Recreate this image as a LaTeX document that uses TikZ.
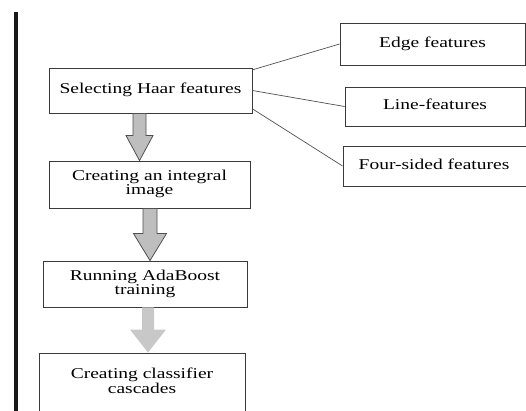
\documentclass[tikz,border=0pt]{standalone}
\usepackage{fontspec}
\usepackage{graphicx}
\setmainfont{Liberation Serif}
\usetikzlibrary{calc}

% wide serif label, one or more centred lines
\newcommand\boxlabel[1]{\fontsize{15}{14}\selectfont\scalebox{1.3}[1]{\begin{tabular}{@{}c@{}}#1\end{tabular}}}

% hollow block arrow between two anchors:
% #1 style, #2 from, #3 to, #4 x centre, #5 shaft half width, #6 head half width, #7 head length
\newcommand\flowarrow[7]{%
  \path[#1] let \p1=(#2), \p2=(#3) in
    ({#4pt-#5pt},\y1) -- ({#4pt+#5pt},\y1) -- ({#4pt+#5pt},{\y2+#7pt})
    -- ({#4pt+#6pt},{\y2+#7pt}) -- (#4pt,\y2) -- ({#4pt-#6pt},{\y2+#7pt})
    -- ({#4pt-#5pt},{\y2+#7pt}) -- cycle;}

\definecolor{edgegray}{HTML}{3A3A3A}
\definecolor{linkgray}{HTML}{505050}
\definecolor{arrowfill}{HTML}{BEBEBE}
\definecolor{arrowlight}{HTML}{C8C8C8}

\tikzset{
  stepbox/.style={draw=edgegray, line width=0.9pt, fill=white, inner sep=0pt, minimum width=#1},
  link/.style={draw=linkgray, line width=0.7pt},
  darrow/.style={fill=arrowfill, draw=linkgray, line width=0.8pt, line join=miter},
  larrow/.style={fill=arrowlight},
}

\begin{document}
\begin{tikzpicture}[x=1pt, y=-1pt]
  \useasboundingbox (0,0) rectangle (526,410);

  % margin rule on the left
  \fill[black!90] (14,12) rectangle (18,415);

  % main flow
  \node[stepbox=203pt, minimum height=45pt] (haar) at (150.5,90.5) {\boxlabel{Selecting Haar features}};
  \node[stepbox=201pt, minimum height=47pt] (integral) at (149.5,184.5) {\boxlabel{Creating an integral\\image}};
  \node[stepbox=204pt, minimum height=46pt] (ada) at (145,284) {\raisebox{4pt}{\boxlabel{Running AdaBoost\\training}}};
  \node[stepbox=206pt, minimum height=60pt] (cascade) at (142,383) {\boxlabel{Creating classifier\\cascades}};

  % feature types
  \node[stepbox=185pt, minimum height=42pt] (edge) at (432.5,44) {\boxlabel{Edge features}};
  \node[stepbox=180pt, minimum height=39pt] (line) at (435,106.5) {\boxlabel{Line-features}};
  \node[stepbox=190pt, minimum height=40pt] (four) at (438,166) {\hspace*{-8pt}\boxlabel{Four-sided features}};

  % links to the feature types
  \draw[link] ($(haar.north east)!0.05!(haar.south east)$) -- (edge.west);
  \draw[link] (haar.east) -- (line.west);
  \draw[link] ($(haar.north east)!0.9!(haar.south east)$) -- (four.west);

  % block arrows down the flow
  \flowarrow{darrow}{haar.south}{integral.north}{139.5}{6.5}{13.5}{25}
  \flowarrow{darrow}{integral.south}{ada.north}{150}{7}{16.5}{27}
  \flowarrow{larrow}{ada.south}{cascade.north}{148}{6}{18}{23}
\end{tikzpicture}
\end{document}
